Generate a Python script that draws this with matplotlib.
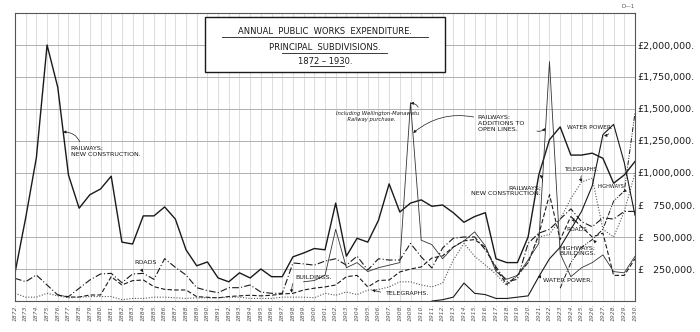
import numpy as np
import matplotlib
matplotlib.use("Agg")
import matplotlib.pyplot as plt
from matplotlib.lines import Line2D
from matplotlib.patches import Rectangle

years = list(range(1872, 1931))

# values in thousands of pounds
new_construction = [220, 650, 1120, 2000, 1670, 985, 725, 830, 875, 975,
                    460, 445, 665, 665, 735, 640, 400, 275, 305, 180,
                    150, 220, 180, 250, 190, 190, 345, 375, 410, 400,
                    765, 350, 490, 460, 630, 915, 695, 765, 790, 740,
                    750, 690, 615, 660, 690, 330, 300, 300, 500, 985,
                    1260, 1360, 1140, 1140, 1155, 1115, 920, 985, 1090]

roads = [177, 151, 203, 125, 47, 34, 99, 164, 211, 216,
         143, 211, 216, 169, 331, 263, 203, 104, 81, 65,
         104, 104, 125, 70, 60, 60, 297, 290, 280, 312,
         330, 280, 350, 242, 330, 320, 320, 450, 345, 258,
         414, 490, 500, 500, 400, 266, 150, 170, 450, 530,
         560, 640, 720, 620, 580, 650, 640, 700, 700]

buildings_start = 1876
buildings = [47, 31, 31, 47, 47, 190, 125, 159, 164, 112,
             91, 86, 86, 34, 29, 25, 35, 40, 45, 40,
             45, 55, 60, 86, 100, 110, 125, 190, 200, 110,
             160, 164, 227, 250, 266, 336, 352, 422, 470, 480,
             420, 250, 130, 200, 300, 520, 830, 480, 660, 580,
             500, 530, 200, 200, 330]

telegraphs = [60, 30, 30, 60, 40, 25, 30, 35, 35, 35,
              10, 20, 20, 30, 30, 25, 20, 25, 25, 25,
              30, 30, 20, 20, 20, 30, 30, 30, 25, 60,
              45, 70, 50, 85, 90, 110, 150, 150, 125, 110,
              140, 320, 450, 350, 280, 210, 120, 200, 300, 500,
              520, 640, 800, 930, 960, 560, 500, 700, 1000]

additions_start = 1899
additions = [150, 160, 200, 560, 260, 300, 230, 260, 280, 300,
             1550, 475, 440, 330, 420, 470, 540, 430, 230, 170,
             200, 320, 450, 1870, 370, 190, 260, 300, 360, 230,
             220, 350]

highways_start = 1923
highways = [100, 300, 420, 480, 560, 780, 860, 1470]

water_start = 1911
water_power = [0, 10, 30, 140, 60, 50, 20, 20, 30, 40,
               190, 330, 420, 560, 700, 900, 1300, 1380, 1080, 670]

y_ticks = [250, 500, 750, 1000, 1250, 1500, 1750, 2000]
y_labels = ["£   250,000.", "£   500,000.", "£   750,000.", "£1,000,000.",
            "£1,250,000.", "£1,500,000.", "£1,750,000.", "£2,000,000."]


def span(start, vals):
    return list(range(start, start + len(vals))), vals


ink = "#1a1a1a"
fig = plt.figure(figsize=(7, 3.32), dpi=100)
ax = fig.add_axes([15 / 700, 1 - 301 / 332, 620 / 700, 288 / 332])

for yr in years:
    ax.axvline(yr, color="#d0d0d0", lw=0.5, zorder=0)
for v in y_ticks:
    ax.axhline(v, color="#b0b0b0", lw=0.7, zorder=0)

ax.plot(years, new_construction, color=ink, lw=1.0)
ax.plot(years, roads, color=ink, lw=0.8, ls=(0, (6, 2, 1, 2)))
ax.plot(*span(buildings_start, buildings), color=ink, lw=0.8, ls=(0, (4, 2)))
ax.plot(years, telegraphs, color="#555555", lw=0.8, ls=(0, (1, 1.5)))
ax.plot(*span(additions_start, additions), color="#333333", lw=0.6)
ax.plot(*span(highways_start, highways), color=ink, lw=0.7,
        ls=(0, (5, 1.5, 1, 1.5, 1, 1.5)))
ax.plot(*span(water_start, water_power), color=ink, lw=0.8)

ax.set_xlim(1872, 1930)
ax.set_ylim(0, 2250)
ax.set_xticks(years)
ax.set_xticklabels([str(y) + "." for y in years], rotation=90, fontsize=4.3,
                   style="italic", color="#555555")
ax.yaxis.tick_right()
ax.set_yticks(y_ticks)
ax.set_yticklabels(y_labels, fontsize=6.8, color=ink)
ax.tick_params(length=0, pad=2)
for s in ax.spines.values():
    s.set_color("#555555")
    s.set_linewidth(0.8)

# title box
fig.patches.append(Rectangle((205 / 700, 1 - 72 / 332), 240 / 700, 55 / 332,
                             transform=fig.transFigure, fill=True, fc="white",
                             ec=ink, lw=1.0, zorder=5))
titles = [("ANNUAL  PUBLIC  WORKS  EXPENDITURE.", 31, 37, 222, 428),
          ("PRINCIPAL  SUBDIVISIONS.", 48, 53, 282, 387),
          ("1872 – 1930.", 61, 66, 310, 344)]
for txt, ty, uy, ux0, ux1 in titles:
    fig.text(325 / 700, 1 - ty / 332, txt, ha="center", va="center",
             fontsize=6, color=ink, zorder=6)
    fig.lines.append(Line2D([ux0 / 700, ux1 / 700], [1 - uy / 332] * 2,
                            transform=fig.transFigure, color=ink, lw=0.6,
                            zorder=6))
fig.text(628 / 700, 1 - 7 / 332, "D—1", ha="center", va="center",
         fontsize=4, color="#555555")

lab = dict(fontsize=4.6, color=ink)
arr = dict(arrowstyle="-|>", color=ink, lw=0.5, mutation_scale=4,
           shrinkA=1, shrinkB=0)


def note(text, xy, xytext, rad=0.3, ha="left", rel=(0.5, 0.5), **kw):
    ax.annotate(text, xy=xy, xytext=xytext, ha=ha, va="center",
                arrowprops=dict(connectionstyle=f"arc3,rad={rad}",
                                relpos=rel, **arr),
                **{**lab, **kw})


note("RAILWAYS;\nNEW CONSTRUCTION.", (1876.5, 1320), (1877.2, 1170),
     rad=0.4, rel=(0.15, 1))
note("ROADS", (1884.0, 225), (1883.2, 300), rad=0.2, rel=(0.3, 0))
note("BUILDINGS.", (1897.9, 65), (1898.2, 187), rad=0.2, rel=(0, 0))
note("TELEGRAPHS.", (1905.4, 85), (1906.6, 62), rad=0.0, rel=(0, 0.5))
note("Including Wellington-Manawatu\n       Railway purchase.", (1909.0, 1545),
     (1902.0, 1440), rad=0.5, rel=(1, 0.9), style="italic", fontsize=3.8)
note("RAILWAYS:\nADDITIONS TO\nOPEN LINES.", (1909.25, 1313),
     (1915.3, 1385), rad=0.25, rel=(0, 0.85))
ax.annotate("", xy=(1921.63, 1350), xytext=(1920.7, 1330),
            arrowprops=dict(connectionstyle="arc3,rad=0.3", **arr))
note("WATER POWER.", (1927.1, 1290), (1923.6, 1355), rad=-0.3,
     rel=(1, 0.3), fontsize=4.2)
note("TELEGRAPHS.", (1925.0, 930), (1923.4, 1030), rad=0.4,
     rel=(0.6, 0), fontsize=3.6)
note("HIGHWAYS", (1928.9, 850), (1926.5, 895), rad=-0.3,
     rel=(1, 0), fontsize=3.6)
note("RAILWAYS;\nNEW CONSTRUCTION.", (1921.1, 985), (1921.2, 860), rad=0.4,
     ha="right", rel=(1, 1))
note("ROADS", (1924.3, 650), (1923.6, 560), rad=-0.3, rel=(0.5, 1),
     fontsize=4.2)
note("HIGHWAYS;\nBUILDINGS.", (1926.1, 476), (1922.9, 390), rad=0.3,
     rel=(1, 0.8))
note("WATER POWER.", (1920.9, 190), (1921.4, 158), rad=0.3, rel=(0, 0.6))

fig.savefig("out.png", dpi=100, facecolor="white")
